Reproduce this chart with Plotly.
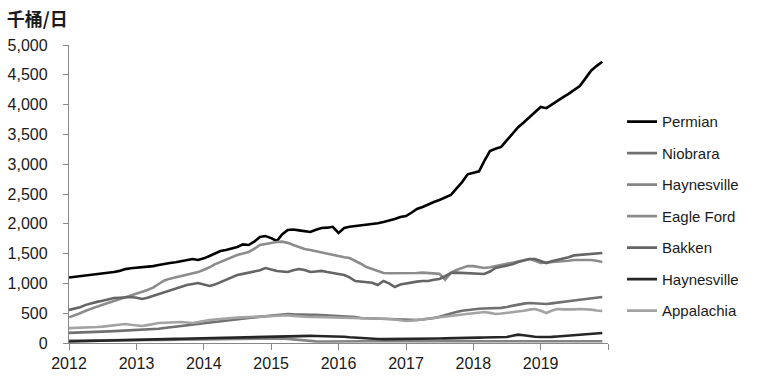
import pandas as pd
import plotly.graph_objects as go

months = pd.date_range("2012-01-01", periods=96, freq="MS")

permian = [1100, 1110, 1120, 1135, 1150, 1155, 1160, 1175, 1190, 1210, 1240, 1255,
           1265, 1270, 1275, 1290, 1310, 1330, 1342, 1355, 1370, 1385, 1409, 1393,
           1420, 1460, 1500, 1544, 1560, 1590, 1610, 1655, 1644, 1700, 1780, 1795,
           1760, 1711, 1820, 1896, 1905, 1890, 1880, 1862, 1900, 1930, 1935, 1950,
           1846, 1930, 1950, 1963, 1970, 1980, 1990, 2010, 2030, 2050, 2080, 2114,
           2130, 2190, 2248, 2282, 2330, 2366, 2400, 2440, 2483, 2590, 2700, 2830,
           2860, 2880, 3050, 3220, 3260, 3290, 3400, 3520, 3620, 3700, 3790, 3880,
           3960, 3940, 4000, 4060, 4120, 4180, 4250, 4310, 4440, 4570, 4650, 4720]

niobrara = [170, 172, 175, 178, 180, 185, 190, 195, 200, 205, 208, 210,
            212, 215, 218, 228, 240, 252, 265, 278, 290, 302, 310, 320,
            330, 340, 350, 360, 369, 380, 392, 405, 419, 430, 440, 448,
            453, 465, 480, 487, 480, 475, 470, 472, 475, 470, 470, 465,
            460, 455, 445, 435, 419, 415, 412, 410, 408, 405, 403, 400,
            385, 380, 385, 395, 405, 419, 440, 470, 503, 520, 540, 555,
            570, 575, 580, 580, 587, 590, 605, 625, 645, 660, 671, 665,
            660, 654, 665, 680, 695, 705, 712, 725, 738, 748, 760, 772]

haynesville_a = [40, 40, 40, 42, 42, 44, 45, 45, 46, 47, 48, 48,
                 48, 49, 50, 50, 52, 53, 54, 55, 56, 57, 58, 59,
                 60, 62, 64, 66, 68, 70, 72, 74, 76, 78, 80, 82,
                 84, 82, 78, 70, 60, 50, 40, 32, 28, 25, 24, 24,
                 25, 26, 27, 28, 28, 29, 30, 30, 30, 31, 31, 31,
                 31, 31, 32, 32, 32, 32, 32, 32, 32, 32, 32, 32,
                 32, 32, 32, 32, 32, 32, 32, 32, 32, 32, 32, 32,
                 32, 31, 31, 31, 30, 30, 30, 30, 30, 30, 30, 30]

eagle_ford = [430, 460, 500, 540, 580, 610, 640, 670, 700, 730, 770, 800,
              830, 860, 889, 930, 990, 1050, 1080, 1100, 1120, 1141, 1160, 1190,
              1230, 1270, 1320, 1360, 1400, 1440, 1477, 1500, 1527, 1580, 1644, 1660,
              1680, 1695, 1700, 1680, 1644, 1610, 1577, 1560, 1540, 1510, 1490, 1470,
              1460, 1440, 1426, 1380, 1330, 1275, 1240, 1210, 1174, 1170, 1170, 1165,
              1170, 1170, 1174, 1180, 1170, 1165, 1160, 1060, 1180, 1225, 1260, 1290,
              1290, 1270, 1258, 1270, 1290, 1309, 1320, 1340, 1359, 1380, 1409, 1380,
              1342, 1350, 1355, 1359, 1370, 1380, 1393, 1395, 1395, 1393, 1380, 1360]

bakken = [555, 580, 600, 640, 670, 690, 710, 730, 755, 760, 770, 772,
          760, 738, 760, 790, 822, 850, 880, 920, 950, 973, 990, 1007,
          980, 956, 980, 1023, 1060, 1100, 1141, 1160, 1180, 1191, 1220, 1258,
          1230, 1208, 1200, 1191, 1220, 1242, 1225, 1191, 1200, 1210, 1191, 1170,
          1158, 1141, 1100, 1040, 1030, 1023, 1010, 973, 1040, 1000, 940, 980,
          1000, 1023, 1030, 1040, 1040, 1060, 1074, 1120, 1174, 1180, 1174, 1174,
          1170, 1160, 1158, 1200, 1258, 1280, 1300, 1320, 1359, 1380, 1409, 1409,
          1380, 1342, 1370, 1393, 1410, 1440, 1470, 1477, 1485, 1493, 1500, 1510]

haynesville_b = [25, 28, 30, 33, 36, 40, 43, 46, 50, 52, 55, 57,
                 58, 60, 62, 64, 66, 67, 68, 70, 72, 74, 76, 78,
                 80, 82, 84, 86, 90, 94, 98, 102, 106, 110, 113, 115,
                 117, 118, 120, 122, 122, 120, 120, 119, 118, 117, 117, 115,
                 110, 104, 96, 88, 80, 72, 67, 66, 65, 65, 66, 67,
                 67, 66, 67, 68, 70, 72, 75, 78, 82, 84, 86, 88,
                 88, 90, 92, 94, 95, 97, 100, 120, 140, 130, 115, 105,
                 100, 98, 102, 108, 115, 122, 128, 134, 142, 150, 160, 168]

appalachia = [250, 252, 255, 258, 262, 268, 275, 285, 298, 310, 319, 305,
              290, 285, 300, 320, 336, 340, 345, 350, 352, 345, 336, 350,
              370, 386, 395, 405, 412, 419, 425, 430, 436, 440, 445, 450,
              453, 460, 470, 465, 455, 445, 436, 436, 438, 436, 436, 432,
              428, 425, 422, 419, 415, 412, 410, 408, 406, 403, 395, 385,
              369, 375, 385, 395, 400, 410, 420, 436, 450, 465, 478, 487,
              500, 510, 520, 505, 487, 495, 505, 515, 520, 540, 560, 570,
              540, 503, 540, 570, 565, 560, 565, 570, 570, 560, 545, 537]

series = [
    ("Permian", permian, "#000000"),
    ("Niobrara", niobrara, "#707070"),
    ("Haynesville", haynesville_a, "#858585"),
    ("Eagle Ford", eagle_ford, "#8c8c8c"),
    ("Bakken", bakken, "#656565"),
    ("Haynesville", haynesville_b, "#262626"),
    ("Appalachia", appalachia, "#a3a3a3"),
]

year_ticks = ["2012", "2013", "2014", "2015", "2016", "2017", "2018", "2019", ""]
year_tickvals = [f"{y}-01-01" for y in range(2012, 2021)]
y_tickvals = list(range(0, 5001, 500))

fig = go.Figure()
for i, (name, vals, color) in enumerate(series):
    fig.add_trace(go.Scatter(
        x=months, y=vals, mode="lines", name=name,
        line=dict(color=color, width=2.6),
        legendgroup=f"g{i}",
    ))

axis_color = "#888888"
fig.update_layout(
    width=761, height=385,
    margin=dict(l=69, r=153, t=45, b=42, autoexpand=False),
    paper_bgcolor="white", plot_bgcolor="white",
    font=dict(family="Liberation Sans, Arial, sans-serif", size=16, color="#1a1a1a"),
    title=dict(text="<b>千桶/日</b>", font=dict(family="Noto Sans CJK SC", size=18, color="#1a1a1a"),
               xref="container", yref="container", x=0.009, y=0.965,
               xanchor="left", yanchor="top"),
    showlegend=True,
    legend=dict(x=1.026, xanchor="left", y=0.425, yanchor="middle",
                tracegroupgap=9, font=dict(size=15, color="#1a1a1a"),
                bgcolor="rgba(0,0,0,0)"),
    xaxis=dict(range=["2012-01-01", "2020-01-01"], tickvals=year_tickvals, ticktext=year_ticks,
               showgrid=False, zeroline=False, showline=True, linecolor=axis_color, linewidth=1.3,
               ticks="outside", ticklen=6, tickcolor=axis_color, tickfont=dict(size=16),
               automargin=False),
    yaxis=dict(range=[0, 5000], tickvals=y_tickvals, tickformat=",",
               showgrid=False, zeroline=False, showline=True, linecolor=axis_color, linewidth=1.3,
               ticks="outside", ticklen=5, tickcolor=axis_color, tickfont=dict(size=16),
               ticklabelstandoff=12, automargin=False),
)

fig.write_html("out.html", config={"displayModeBar": False},
               post_script="document.body.style.margin='0';document.body.style.padding='0';")
